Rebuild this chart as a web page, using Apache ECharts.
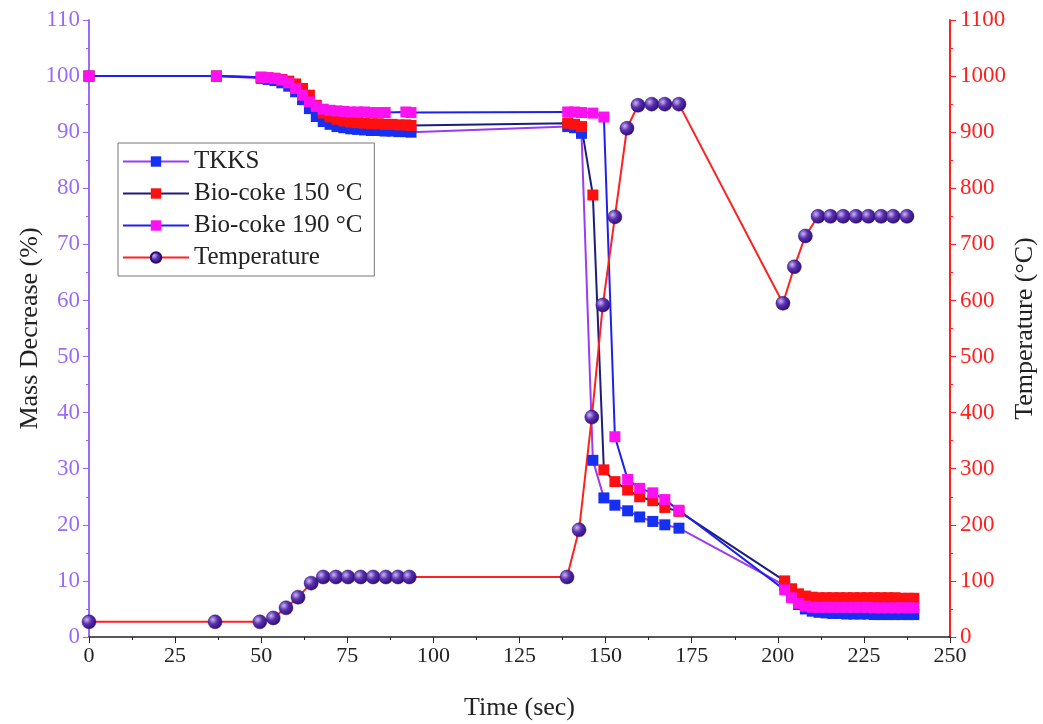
<!DOCTYPE html>
<html>
<head>
<meta charset="utf-8">
<script src="https://cdn.jsdelivr.net/npm/echarts@6/dist/echarts.min.js"></script>
<style>
  html, body { margin: 0; padding: 0; background: #fff; }
  #chart { width: 1043px; height: 724px; }
</style>
</head>
<body>
<div id="chart"></div>
<script>
// time axis of the three mass curves (sec)
const massTime = [0, 37, 50, 52, 54, 56, 58, 60, 62, 64, 66, 68, 70, 72, 74, 76, 78, 80, 82, 84, 86, 88, 90, 92, 93.5,
  139, 141, 143, 146.3, 149.5, 152.7, 156.4, 159.9, 163.7, 167.2, 171.3,
  202, 204, 206, 208, 210, 212, 214, 216, 218, 220, 222, 224, 226, 228, 230, 232, 234, 236, 238, 239.5]
const tkks = [100, 100, 99.6, 99.4, 99.2, 98.8, 98.2, 97.2, 95.8, 94.2, 92.8, 91.9, 91.4, 91.0, 90.8, 90.6, 90.5, 90.4, 90.3, 90.3, 90.2, 90.2, 90.1, 90.1, 90.0,
  91.0, 90.8, 89.8, 31.5, 24.8, 23.5, 22.5, 21.4, 20.6, 20.0, 19.4,
  9.2, 7.2, 5.8, 5.0, 4.6, 4.4, 4.3, 4.2, 4.2, 4.1, 4.1, 4.1, 4.1, 4.0, 4.0, 4.0, 4.0, 4.0, 4.0, 4.0]
const bioCoke150 = [100, 100, 99.8, 99.7, 99.6, 99.4, 99.1, 98.6, 97.8, 96.6, 94.8, 93.4, 92.7, 92.3, 92.0, 91.8, 91.7, 91.6, 91.5, 91.5, 91.4, 91.4, 91.3, 91.3, 91.2,
  91.6, 91.4, 91.0, 78.8, 29.8, 27.7, 26.2, 25.0, 24.3, 23.1, 22.4,
  10.0, 8.6, 7.7, 7.3, 7.1, 7.0, 7.0, 7.0, 7.0, 7.0, 7.0, 7.0, 7.0, 7.0, 7.0, 7.0, 7.0, 6.9, 6.9, 6.9]
const bioCoke190 = [100, 100, 99.8, 99.7, 99.6, 99.3, 98.8, 97.8, 96.6, 95.4, 94.6, 94.1, 93.9, 93.8, 93.7, 93.6, 93.6, 93.6, 93.5, 93.5, 93.5, null, null, 93.6, 93.5,
  93.6, 93.6, 93.5, 93.4, 92.7, 35.7, 28.1, 26.5, 25.7, 24.5, 22.6,
  8.4, 7.0, 6.0, 5.5, 5.3, 5.3, 5.3, 5.3, 5.3, 5.3, 5.3, 5.3, 5.3, 5.2, 5.2, 5.2, 5.2, 5.2, 5.2, 5.2]

// temperature curve (right axis, °C)
const tempTime = [0, 36.6, 49.6, 53.5, 57.2, 60.7, 64.5, 68, 71.7, 75.2, 78.9, 82.5, 86.2, 89.7, 93,
  138.8, 142.3, 146, 149.2, 152.7, 156.2, 159.4, 163.4, 167.2, 171.3,
  201.5, 204.8, 208, 211.7, 215.3, 219, 222.7, 226.3, 230, 233.5, 237.5]
const temperature = [27, 27, 27, 34, 52, 71, 96, 107, 107, 107, 107, 107, 107, 107, 107,
  107, 191, 392, 592, 749, 907, 948, 950, 950, 950,
  595, 660, 715, 750, 750, 750, 750, 750, 750, 750, 750]

const pairs = (xs, ys) => xs.map((x, i) => [x, ys[i]])

const serif = 'Liberation Serif'
const ball = {
  type: 'radial', x: 0.35, y: 0.35, r: 0.7,
  colorStops: [{ offset: 0, color: '#c9b8f2' }, { offset: 0.45, color: '#5a2fb0' }, { offset: 1, color: '#2a0d70' }]
}

const chart = echarts.init(document.getElementById('chart'))
chart.setOption({
  animation: false,
  grid: { left: 89, right: 93, top: 20, bottom: 87, outerBoundsMode: 'none' },
  legend: {
    orient: 'vertical', left: 118, top: 143,
    backgroundColor: '#fff', borderColor: '#777', borderWidth: 1, borderRadius: 0,
    padding: [6, 12, 6, 4],
    itemWidth: 66, itemHeight: 13, itemGap: 7,
    textStyle: { fontFamily: serif, fontSize: 25, color: '#222' },
    data: ['TKKS', 'Bio-coke 150 °C', 'Bio-coke 190 °C', 'Temperature']
  },
  xAxis: {
    type: 'value', min: 0, max: 250, interval: 25,
    name: 'Time (sec)', nameLocation: 'middle', nameGap: 58,
    nameTextStyle: { fontFamily: serif, fontSize: 26, color: '#222' },
    axisLine: { onZero: false, lineStyle: { color: '#222', width: 1.5 } },
    axisTick: { length: 6, lineStyle: { color: '#222' } },
    minorTick: { show: true, splitNumber: 2, length: 3, lineStyle: { color: '#222' } },
    axisLabel: { fontFamily: serif, fontSize: 22, color: '#222', margin: 8 },
    splitLine: { show: false }
  },
  yAxis: [{
    type: 'value', min: 0, max: 110, interval: 10, position: 'left',
    name: 'Mass Decrease (%)', nameLocation: 'middle', nameGap: 46, nameMoveOverlap: false,
    nameTextStyle: { fontFamily: serif, fontSize: 26, color: '#222' },
    axisLine: { show: true, onZero: false, lineStyle: { color: '#9a6cf5', width: 2 } },
    axisTick: { show: true, length: 6, lineStyle: { color: '#9a6cf5' } },
    minorTick: { show: true, splitNumber: 2, length: 3, lineStyle: { color: '#9a6cf5' } },
    axisLabel: { fontFamily: serif, fontSize: 23, color: '#9a6cf5', margin: 9 },
    splitLine: { show: false }
  }, {
    type: 'value', min: 0, max: 1100, interval: 100, position: 'right',
    name: 'Temperature (°C)', nameLocation: 'middle', nameGap: 62, nameMoveOverlap: false,
    nameTextStyle: { fontFamily: serif, fontSize: 26, color: '#222' },
    axisLine: { show: true, onZero: false, lineStyle: { color: '#ff2020', width: 2 } },
    axisTick: { show: true, length: 6, lineStyle: { color: '#ff2020' } },
    minorTick: { show: true, splitNumber: 2, length: 3, lineStyle: { color: '#ff2020' } },
    axisLabel: { fontFamily: serif, fontSize: 23, color: '#ff2020', margin: 10, formatter: v => String(v) },
    splitLine: { show: false }
  }],
  series: [{
    name: 'TKKS', type: 'line', yAxisIndex: 0, connectNulls: true,
    data: pairs(massTime, tkks),
    symbol: 'rect', symbolSize: 11,
    itemStyle: { color: '#1530f0' },
    lineStyle: { color: '#9a3cf0', width: 2 }
  }, {
    name: 'Bio-coke 150 °C', type: 'line', yAxisIndex: 0, connectNulls: true,
    data: pairs(massTime, bioCoke150),
    symbol: 'rect', symbolSize: 11,
    itemStyle: { color: '#ff1010' },
    lineStyle: { color: '#1c1f7a', width: 2 }
  }, {
    name: 'Bio-coke 190 °C', type: 'line', yAxisIndex: 0, connectNulls: true,
    data: pairs(massTime, bioCoke190),
    symbol: 'rect', symbolSize: 11,
    itemStyle: { color: '#ff10f0' },
    lineStyle: { color: '#2020ee', width: 2 }
  }, {
    name: 'Temperature', type: 'line', yAxisIndex: 1,
    data: pairs(tempTime, temperature),
    symbol: 'circle', symbolSize: 14,
    itemStyle: { color: ball, borderColor: '#2a0d70', borderWidth: 0.5 },
    lineStyle: { color: '#ff2020', width: 2 }
  }]
})
</script>
</body>
</html>
